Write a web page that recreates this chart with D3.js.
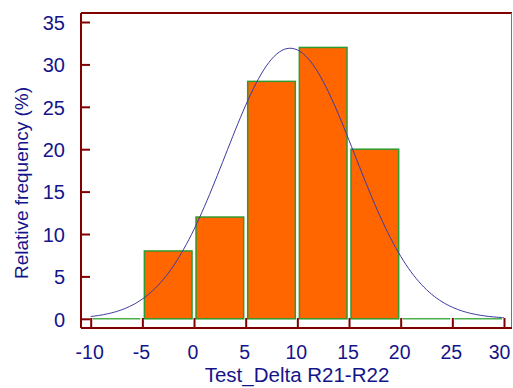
<!DOCTYPE html>
<html>
<head>
<meta charset="utf-8">
<script src="https://cdn.jsdelivr.net/npm/d3@7"></script>
<style>
  html, body { margin: 0; padding: 0; background: #ffffff; }
  svg { display: block; }
</style>
</head>
<body>
<script>
// ---- data ----
const binStarts = [-10, -5, 0, 5, 10, 15, 20, 25];
const binWidth = 5;
const frequencies = [0, 8, 12, 28, 32, 20, 0, 0]; // relative frequency (%)
const xTicks = [-10, -5, 0, 5, 10, 15, 20, 25, 30];
const yTicks = [0, 5, 10, 15, 20, 25, 30, 35];
const curveMean = 9.3;   // fitted normal curve parameters
const curveSD = 6.25;
const xTitle = "Test_Delta R21-R22";
const yTitle = "Relative frequency (%)";

// ---- layout ----
const W = 513, H = 388;
const frame = { left: 81, top: 13, right: 512, bottom: 328 };
const x = d3.scaleLinear().domain([-10, 30]).range([90.7, 504]);
const y = d3.scaleLinear().domain([0, 35]).range([318.8, 22]);

const navy = "#14148a";
const axisRed = "#800000";
const font = "Liberation Sans, Arial, sans-serif";

const svg = d3.select("body").append("svg").attr("width", W).attr("height", H);

// bars
const bins = binStarts.map((s, i) => ({ x0: s, x1: s + binWidth, v: frequencies[i] }));
svg.append("g").selectAll("rect")
  .data(bins.filter(d => d.v > 0))
  .join("rect")
  .attr("x", d => x(d.x0) + 2)
  .attr("y", d => y(d.v))
  .attr("width", d => x(d.x1) - x(d.x0) - 4)
  .attr("height", d => y(0) - y(d.v))
  .attr("fill", "#ff6600")
  .attr("stroke", "#2f9a2f")
  .attr("stroke-width", 1.5);

// zero-height bins as baseline strokes
svg.append("g").selectAll("line")
  .data(bins.filter(d => d.v === 0))
  .join("line")
  .attr("x1", d => x(d.x0) + 2)
  .attr("x2", d => x(d.x1) - 2)
  .attr("y1", y(0)).attr("y2", y(0))
  .attr("stroke", "#4caf4c")
  .attr("stroke-width", 1.5);

// normal curve
const curvePts = d3.range(-10, 30.001, 0.25).map(v => {
  const z = (v - curveMean) / curveSD;
  return [v, 100 * binWidth * Math.exp(-0.5 * z * z) / (curveSD * Math.sqrt(2 * Math.PI))];
});
svg.append("path")
  .datum(curvePts)
  .attr("d", d3.line().x(d => x(d[0])).y(d => y(d[1])).curve(d3.curveBasis))
  .attr("fill", "none")
  .attr("stroke", "#3b3ba0")
  .attr("stroke-width", 1);

// frame
svg.append("line").attr("x1", frame.left).attr("x2", frame.right)
  .attr("y1", frame.top).attr("y2", frame.top)
  .attr("stroke", axisRed).attr("stroke-width", 2);
svg.append("line").attr("x1", frame.right - 0.5).attr("x2", frame.right - 0.5)
  .attr("y1", frame.top).attr("y2", frame.bottom)
  .attr("stroke", "#a86060").attr("stroke-width", 1);

// y axis
const yAxis = d3.axisLeft(y).tickValues(yTicks).tickSize(-9).tickPadding(16).tickFormat(d => String(d));
const gy = svg.append("g").attr("transform", `translate(${frame.left},0)`).call(yAxis);
gy.select(".domain").remove();
gy.append("line").attr("x1", 0).attr("x2", 0).attr("y1", frame.top).attr("y2", frame.bottom)
  .attr("stroke", axisRed).attr("stroke-width", 2);
gy.selectAll(".tick line").attr("stroke", axisRed).attr("stroke-width", 2);
gy.selectAll(".tick text")
  .attr("fill", navy)
  .attr("font-family", font)
  .attr("font-size", 20)
  .attr("dy", "0.36em");

// x axis
const xAxis = d3.axisBottom(x).tickValues(xTicks).tickSize(-10).tickPadding(17).tickFormat(d => String(d));
const gx = svg.append("g").attr("transform", `translate(0,${frame.bottom})`).call(xAxis);
gx.select(".domain").remove();
gx.append("line").attr("x1", frame.left).attr("x2", frame.right).attr("y1", 0).attr("y2", 0)
  .attr("stroke", axisRed).attr("stroke-width", 2);
gx.selectAll(".tick line").attr("stroke", axisRed).attr("stroke-width", 2);
gx.selectAll(".tick text")
  .attr("fill", navy)
  .attr("font-family", font)
  .attr("font-size", 19.5)
  .attr("x", (d, i) => i === xTicks.length - 1 ? -5 : -1.5);

// titles
svg.append("text")
  .attr("x", 297).attr("y", 382)
  .attr("text-anchor", "middle")
  .attr("fill", navy)
  .attr("font-family", font)
  .attr("font-size", 20.5)
  .text(xTitle);

svg.append("text")
  .attr("transform", "translate(28,183) rotate(-90)")
  .attr("text-anchor", "middle")
  .attr("fill", navy)
  .attr("font-family", font)
  .attr("font-size", 19)
  .text(yTitle);
</script>
</body>
</html>
